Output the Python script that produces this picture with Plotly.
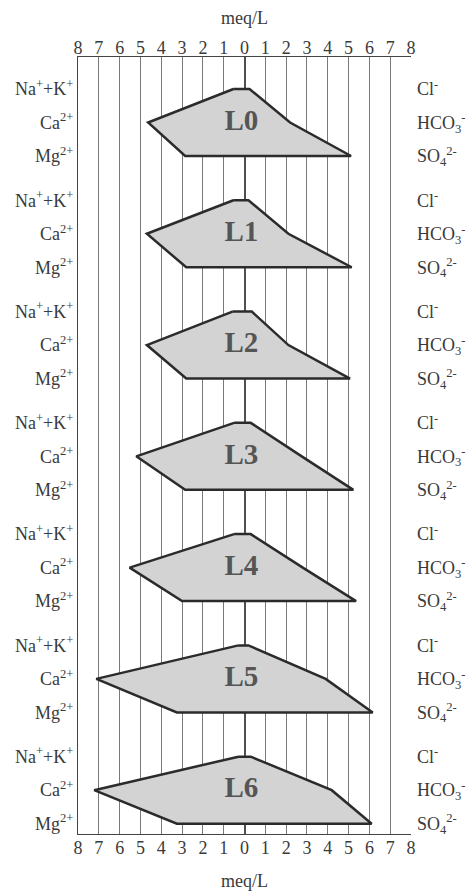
import plotly.graph_objects as go

# ---- data (meq/L) ----
samples = ["L0", "L1", "L2", "L3", "L4", "L5", "L6"]
na_k = [0.53, 0.53, 0.58, 0.50, 0.50, 0.29, 0.29]
ca = [4.63, 4.69, 4.69, 5.20, 5.52, 7.12, 7.22]
mg = [2.85, 2.80, 2.80, 2.85, 3.00, 3.25, 3.25]
cl = [0.24, 0.19, 0.35, 0.30, 0.30, 0.19, 0.30]
hco3 = [2.19, 2.11, 2.11, 2.75, 2.80, 3.90, 4.19]
so4 = [5.12, 5.15, 5.07, 5.23, 5.36, 6.16, 6.11]

tick_vals = list(range(-8, 9))
tick_text = [str(abs(v)) for v in tick_vals]
cation_labels = ["Na<sup>+</sup>+K<sup>+</sup>", "Ca<sup>2+</sup>", "Mg<sup>2+</sup>"]
anion_labels = ["Cl<sup>-</sup>", "HCO<sub>3</sub><sup>-</sup>", "SO<sub>4</sub><sup>2-</sup>"]

GROUP = 3.322  # vertical spacing between samples (row units)
FONT = "Liberation Serif"
TXT = "#3a3a3a"

fig = go.Figure()

row_vals, left_text, right_text = [], [], []
for i, name in enumerate(samples):
    y0 = i * GROUP
    ys = [y0, y0, y0 + 1, y0 + 2, y0 + 2, y0 + 1, y0]
    xs = [-na_k[i], cl[i], hco3[i], so4[i], -mg[i], -ca[i], -na_k[i]]
    fig.add_trace(go.Scatter(
        x=xs, y=ys, mode="lines", fill="toself",
        fillcolor="rgb(211,211,211)",
        line=dict(color="#2b2b2b", width=2.5),
        hoverinfo="skip", showlegend=False))
    fig.add_trace(go.Scatter(
        x=[-0.15], y=[y0 + 1.0], mode="text", text=[f"<b>{name}</b>"],
        textfont=dict(family=FONT, size=29, color="#555555"),
        hoverinfo="skip", showlegend=False))
    for j in range(3):
        row_vals.append(y0 + j)
        left_text.append(cation_labels[j])
        right_text.append(anion_labels[j])

y_top = -0.955
y_bot = 22.24

# helper invisible traces so overlay axes render
fig.add_trace(go.Scatter(x=[0], y=[0], xaxis="x2", yaxis="y", mode="markers",
                         marker=dict(opacity=0), hoverinfo="skip", showlegend=False))
fig.add_trace(go.Scatter(x=[0], y=[0], xaxis="x", yaxis="y2", mode="markers",
                         marker=dict(opacity=0), hoverinfo="skip", showlegend=False))

axis_font = dict(family=FONT, size=18, color=TXT)
title_font = dict(family=FONT, size=18, color=TXT)

fig.update_layout(
    width=466, height=891,
    margin=dict(l=78, r=55, t=57, b=57, autoexpand=False),
    paper_bgcolor="white", plot_bgcolor="white",
    font=dict(family=FONT),
    showlegend=False,
    xaxis=dict(range=[-8, 8], tickvals=tick_vals, ticktext=tick_text,
               showgrid=True, gridcolor="#7a7a7a", gridwidth=1,
               zeroline=True, zerolinecolor="#505050", zerolinewidth=2.2,
               showline=True, linecolor="#444444", linewidth=1.2, mirror=True,
               ticks="", tickfont=axis_font, automargin=False, ticklabelstandoff=-3,
               title=dict(text="meq/L", font=title_font, standoff=21)),
    xaxis2=dict(range=[-8, 8], overlaying="x", side="top", tickvals=tick_vals,
                ticktext=tick_text, showgrid=False, zeroline=False, showline=False,
                ticks="", tickfont=axis_font, automargin=False, ticklabelstandoff=-2,
                title=dict(text="meq/L", font=title_font, standoff=9)),
    yaxis=dict(range=[y_bot, y_top], tickvals=row_vals, ticktext=left_text,
               showgrid=False, zeroline=False, showline=True, linecolor="#444444",
               linewidth=1.2, ticks="", automargin=False,
               tickfont=dict(family=FONT, size=18, color=TXT)),
    yaxis2=dict(range=[y_bot, y_top], overlaying="y", side="right", tickvals=row_vals,
                ticktext=right_text, showgrid=False, zeroline=False, showline=False,
                ticks="", automargin=False, ticklabelstandoff=5,
                tickfont=dict(family=FONT, size=18, color=TXT)),
)

fig.write_html("out.html")
